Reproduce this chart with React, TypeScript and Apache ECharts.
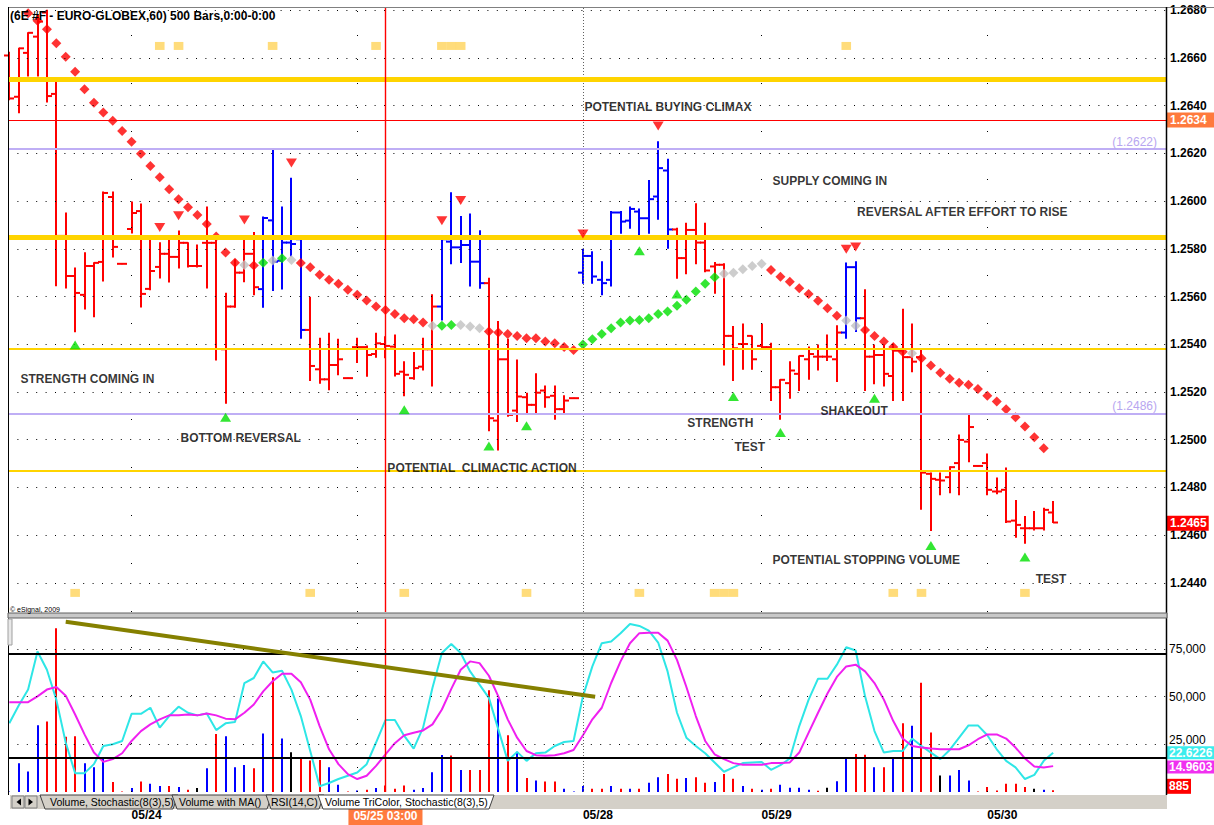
import React, { useEffect, useRef } from "react";
import * as echarts from "echarts";

const FONT = "'Liberation Sans', Arial, Helvetica, sans-serif";

// ---------------- axes / ticks ----------------
const priceTicks = [1.244, 1.246, 1.248, 1.25, 1.252, 1.254, 1.256, 1.258, 1.26, 1.262, 1.264, 1.266, 1.268];
const volumeTicks = [25000, 50000, 75000];
const dateTickBars = [13, 61, 80, 104];
const dateTickLabels = ["05/24", "05/28", "05/29", "05/30"];
const sparseDayLineBars = [13, 80, 104];
const halfDayLineBars = [37];
const denseDayLineBars = [61];
const cursorBar = 40;
const cursorLabel = "05/25 03:00";
const titleText = "(6E #F - EURO-GLOBEX,60) 500 Bars,0:00-0:00";

// ---------------- price bars (60 min) ----------------
const opens = [
  1.2661, 1.26437, 1.26621, 1.26689, 1.2679, 1.26449, 1.25854, 1.25686, 1.25607, 1.25728,
  1.25745, 1.26017, 1.25737, 1.25883, 1.25958, 1.25632, 1.25724, 1.25779, 1.25766, 1.25825,
  1.25728, 1.25825, 1.25825, 1.25379, 1.25558, 1.257, 1.25779, 1.25631, 1.25919, 1.2575,
  1.25826, 1.2584, 1.2546, 1.25295, 1.25253, 1.25313, 1.25258, 1.25388, 1.25388, 1.25359,
  1.25401, 1.2539, 1.25285, 1.25258, 1.25306, 1.25379, 1.25558, 1.2583, 1.25806, 1.25816,
  1.25746, 1.25656, 1.2508, 1.25337, 1.25122, 1.25178, 1.25146, 1.25206, 1.25184, 1.25128,
  1.25174, 1.257, 1.2577, 1.2567, 1.2567, 1.25952, 1.25918, 1.25956, 1.25928, 1.26019,
  1.26128, 1.25881, 1.25761, 1.25879, 1.25826, 1.25726, 1.25733, 1.25435, 1.25401, 1.25435,
  1.25393, 1.25388, 1.2522, 1.25237, 1.25276, 1.25337, 1.25348, 1.25348, 1.25337, 1.25449,
  1.25723, 1.25509, 1.25348, 1.25355, 1.25267, 1.25373, 1.25346, 1.25346, 1.24857, 1.24832,
  1.24843, 1.24902, 1.24992, 1.2489, 1.24902, 1.24783, 1.2479, 1.24661, 1.24629, 1.24629,
  1.24629, 1.24695,
];
const highs = [
  1.26624, 1.2664, 1.26705, 1.26781, 1.268, 1.26516, 1.2595, 1.2572, 1.25783, 1.25741,
  1.26038, 1.26038, 1.25737, 1.25996, 1.25988, 1.25854, 1.25825, 1.2585, 1.25875, 1.25825,
  1.25816, 1.25975, 1.25854, 1.25614, 1.25754, 1.25854, 1.25868, 1.25933, 1.26217, 1.25975,
  1.26096, 1.25849, 1.25597, 1.25425, 1.25446, 1.25421, 1.25258, 1.25425, 1.25393, 1.25446,
  1.25431, 1.25439, 1.25327, 1.25365, 1.25425, 1.25607, 1.25854, 1.26035, 1.25935, 1.25946,
  1.25876, 1.25677, 1.25495, 1.25421, 1.25334, 1.25195, 1.25276, 1.25225, 1.25225, 1.25184,
  1.25174, 1.25798, 1.25788, 1.25746, 1.25956, 1.25956, 1.25975, 1.25967, 1.26086, 1.26249,
  1.26175, 1.25886, 1.25907, 1.25989, 1.25907, 1.25743, 1.25737, 1.25474, 1.25485, 1.25435,
  1.25485, 1.25404, 1.25251, 1.25327, 1.25351, 1.25388, 1.25397, 1.25439, 1.25477, 1.2574,
  1.25746, 1.25628, 1.25397, 1.25397, 1.25401, 1.25547, 1.25485, 1.25379, 1.2486, 1.2486,
  1.24887, 1.2502, 1.25108, 1.2489, 1.2494, 1.24839, 1.24881, 1.24745, 1.24678, 1.24699,
  1.24713, 1.24741,
];
const lows = [
  1.26425, 1.2637, 1.26524, 1.26524, 1.26415, 1.25645, 1.25636, 1.25452, 1.25548, 1.25515,
  1.25665, 1.25766, 1.25737, 1.25866, 1.25556, 1.25628, 1.25678, 1.25661, 1.2572, 1.25724,
  1.25724, 1.25636, 1.25334, 1.25153, 1.25555, 1.25662, 1.25607, 1.25555, 1.25625, 1.25631,
  1.2577, 1.25425, 1.25248, 1.25237, 1.25209, 1.25272, 1.25258, 1.25323, 1.25266, 1.25346,
  1.25343, 1.25267, 1.25184, 1.25253, 1.25292, 1.25225, 1.25502, 1.25737, 1.25743, 1.25644,
  1.25635, 1.25038, 1.24957, 1.25098, 1.25076, 1.25114, 1.25111, 1.25136, 1.25086, 1.25111,
  1.25174, 1.25656, 1.25656, 1.25607, 1.25644, 1.25865, 1.25886, 1.25854, 1.25865, 1.25924,
  1.25802, 1.25677, 1.25695, 1.25737, 1.25704, 1.25614, 1.25313, 1.25248, 1.25295, 1.25295,
  1.25383, 1.25164, 1.25086, 1.25174, 1.25206, 1.25253, 1.25292, 1.25332, 1.25244, 1.25425,
  1.25453, 1.25206, 1.25234, 1.25225, 1.25164, 1.25164, 1.25285, 1.24709, 1.24619, 1.24769,
  1.24778, 1.24769, 1.24908, 1.2489, 1.24769, 1.24773, 1.24653, 1.24591, 1.24566, 1.24622,
  1.24622, 1.24653,
];
const closes = [
  1.2643, 1.2664, 1.26705, 1.26752, 1.2644, 1.25854, 1.25686, 1.25615, 1.25728, 1.25741,
  1.26034, 1.25808, 1.25737, 1.2595, 1.25611, 1.25707, 1.25779, 1.25766, 1.25825, 1.25728,
  1.25728, 1.25825, 1.2538, 1.25558, 1.257, 1.25779, 1.25639, 1.25929, 1.25746, 1.25826,
  1.2582, 1.2546, 1.25309, 1.25253, 1.25313, 1.25337, 1.25258, 1.25388, 1.25355, 1.25404,
  1.25393, 1.25276, 1.25272, 1.253, 1.25379, 1.25558, 1.2584, 1.25806, 1.25816, 1.25746,
  1.25656, 1.2509, 1.25337, 1.25104, 1.25181, 1.25146, 1.25197, 1.25178, 1.25128, 1.25164,
  1.25174, 1.2577, 1.25684, 1.25656, 1.25952, 1.25914, 1.25967, 1.25928, 1.26008, 1.26138,
  1.25881, 1.25761, 1.25879, 1.25826, 1.25709, 1.25733, 1.25435, 1.25383, 1.25401, 1.25337,
  1.25388, 1.2522, 1.25251, 1.2529, 1.25351, 1.25359, 1.25348, 1.25348, 1.25449, 1.25723,
  1.25509, 1.25348, 1.25355, 1.25276, 1.25373, 1.25346, 1.25327, 1.24862, 1.24836, 1.24829,
  1.24885, 1.24999, 1.25053, 1.2489, 1.2479, 1.24783, 1.24657, 1.24643, 1.24629, 1.24629,
  1.24706, 1.24653,
];
// r = red bar, b = blue bar
const barColors = (
  "rrrrrrrrrr" + "rrrrrrrrrr" + "rrrrrrrbbb" + "bbrrrrrrrr" + "rrrrrrbbbb" +
  "brrrrrrrrr" + "rbbbbbbbbb" + "brrrrrrrrr" + "rrrrrrrrrb" + "brrrrrrrrr" +
  "rrrrrrrrrr" + "rr"
).split("");

// ---------------- stop-and-reverse diamonds ----------------
const sar = [
  null, null, 1.26787, 1.26756, 1.2672, 1.26661, 1.26605, 1.26542, 1.26469, 1.26412,
  1.26371, 1.26337, 1.26294, 1.26249, 1.26198, 1.26147, 1.261, 1.2605, 1.26008, 1.25974,
  1.25942, 1.25904, 1.25851, 1.25784, 1.25742, 1.25732, 1.2573, 1.25742, 1.25751, 1.2576,
  1.25753, 1.2574, 1.25723, 1.25691, 1.2567, 1.25653, 1.25628, 1.25607, 1.25583, 1.25558,
  1.25544, 1.25527, 1.25509, 1.25505, 1.25491, 1.25477, 1.25477, 1.25481, 1.25481, 1.25474,
  1.25467, 1.25453, 1.25449, 1.25443, 1.25435, 1.25425, 1.25425, 1.25411, 1.25404, 1.25388,
  1.25376, 1.25399, 1.25421, 1.25443, 1.25467, 1.25491, 1.25499, 1.25502, 1.25509, 1.25527,
  1.25537, 1.25561, 1.25586, 1.25621, 1.25653, 1.25681, 1.25695, 1.257, 1.25714, 1.25728,
  1.25737, 1.25711, 1.25683, 1.25662, 1.25635, 1.25611, 1.25582, 1.25551, 1.25519, 1.25499,
  1.25477, 1.2546, 1.25435, 1.25411, 1.25388, 1.25369, 1.25362, 1.25341, 1.25311, 1.25281,
  1.25255, 1.25239, 1.2523, 1.25212, 1.25184, 1.2516, 1.25128, 1.25094, 1.25055, 1.2501,
  1.24964, null,
];
// r = red, g = green, x = grey
const sarColors = (
  "--rrrrrrrr" + "rrrrrrrrrr" + "rrrrrxrgxg" + "xrrrrrrrrr" + "rrrrrxggxx" +
  "xrrrrrrrrr" + "rggggggggg" + "ggggggxxxx" + "xrrrrrrrrx" + "xrrrrrxrrr" +
  "rrrrrrrrrr" + "r-"
).split("");

// ---------------- signal triangles & squares ----------------
const downTriBars = [16, 18, 25, 30, 46, 48, 61, 69, 89, 90];
const downTriPrices = [1.25889, 1.25938, 1.25921, 1.26159, 1.25918, 1.26002, 1.25862, 1.26315, 1.25798, 1.25807];
const upTriBars = [7, 23, 42, 51, 55, 67, 71, 77, 82, 92, 98, 108];
const upTriPrices = [1.25397, 1.25094, 1.25125, 1.24974, 1.25058, 1.25792, 1.25611, 1.25181, 1.2503, 1.25174, 1.24557, 1.24508];
const topSquareBars = [16, 18, 28, 39, 46, 47, 48, 89];
const topSquarePrice = 1.2665;
const bottomSquareBars = [7, 32, 42, 55, 67, 75, 76, 77, 94, 97, 108];
const bottomSquarePrice = 1.24358;

// ---------------- horizontal levels ----------------
const yellowLevels = [1.2651, 1.2585, 1.2538, 1.2487];
const yellowWidths = [5, 5, 2, 2];
const lavenderLevels = [1.2622, 1.2511];
const lavenderLabels = ["(1.2622)", "(1.2486)"];
const redLevel = 1.2634;
const redLevelLabel = "1.2634";
const lastPrice = 1.2465;
const lastPriceLabel = "1.2465";

// ---------------- annotations ----------------
const annoTexts = [
  "STRENGTH COMING IN", "BOTTOM REVERSAL", "POTENTIAL  CLIMACTIC ACTION", "POTENTIAL BUYING CLIMAX",
  "SUPPLY COMING IN", "REVERSAL AFTER EFFORT TO RISE", "STRENGTH", "TEST", "SHAKEOUT",
  "POTENTIAL STOPPING VOLUME", "TEST",
];
const annoBars = [1.14, 18.15, 40.15, 61.1, 81.1, 90.1, 72.05, 77.05, 86.2, 81.1, 109.1];
const annoPrices = [1.25255, 1.25008, 1.24882, 1.26394, 1.26084, 1.25955, 1.2507, 1.2497, 1.25121, 1.24496, 1.24417];

// ---------------- lower panel: volume + stochastic ----------------
const volumes = [
  0, 15100, 10700, 35000, 37000, 85900, 29000, 29200, 15100, 13000,
  17700, 5200, 300, 2100, 5500, 4300, 3100, 3100, 2600, 1200,
  2100, 12500, 30400, 29200, 13000, 14200, 12500, 30700, 60200, 28100,
  20800, 17300, 16500, 16800, 13000, 3800, 300, 800, 1200, 2100,
  3400, 1700, 3400, 1200, 2100, 10400, 19400, 19100, 11600, 11600,
  11600, 53400, 49000, 29800, 21100, 7400, 6000, 5500, 5500, 1700,
  300, 3100, 1700, 1700, 3100, 1700, 1700, 1700, 4800, 7800,
  9500, 6900, 7300, 7800, 4800, 5200, 9500, 6900, 3100, 1700,
  1200, 1700, 3800, 2200, 2200, 1200, 600, 2200, 5700, 17700,
  19900, 19600, 13000, 13000, 17900, 36100, 34700, 57300, 31200, 8600,
  8600, 11600, 6000, 300, 2600, 800, 4300, 4300, 2600, 1700,
  1200, 885,
];
const volColors = (
  "bbbbrrrrbb" + "brrbrbbrbr" + "kbrbbbrbrb" + "krrrbbrbrb" + "rrrbbbbrbr" +
  "rrbrbrbrrb" + "bbrrbrbrbb" + "rrbrrbrrbr" + "brbbbbrkbb" + "rrbrbrbrrk" +
  "bbbrrrrrrk" + "br"
).split("");
const stochK = [
  39.7, 50, 59.2, 81.2, 70.7, 53.4, 28.6, 10.9, 10.9, 16.1,
  26.6, 27.6, 29.5, 45.2, 45.2, 48.7, 37.2, 43.9, 49.3, 45.8,
  44.3, 45.4, 35.8, 39.7, 40.4, 63, 65.9, 75.5, 69.1, 70.1,
  59.2, 43.9, 23.7, 3.3, 5.2, 7.5, 9.4, 11.3, 16.1, 28.6,
  41.6, 41.6, 32.4, 25.1, 37.2, 60.2, 80.3, 85.6, 80.3, 69.7,
  62.1, 54.4, 36.2, 18, 23.2, 18, 22.4, 22.8, 26.6, 28.9,
  29.5, 55.3, 72.6, 86, 87, 91.8, 97.1, 96, 93.3, 86.4,
  69.7, 45.8, 31.4, 26.6, 22.4, 17.1, 11.7, 14.2, 16.7, 17.1,
  17.4, 12.8, 15.5, 19.4, 38.1, 53.4, 65.5, 65.5, 73.6, 83.7,
  81.8, 55.3, 35.2, 22.8, 23.7, 23.7, 30.9, 26.6, 22.8, 19,
  24.3, 31.4, 38.5, 38.5, 32.8, 24.7, 18, 14.2, 7.5, 9.9,
  18, 22.6226,
];
const stochD = [
  51.9, 51.9, 51.9, 55.3, 59.2, 60.7, 55.7, 44.8, 33.3, 22.8,
  17.4, 19, 22.4, 29.5, 35.2, 39.1, 42, 44.3, 44.3, 44.8,
  44.3, 45.4, 44.3, 42.4, 42, 45.8, 50.6, 58.2, 64, 68.4,
  68.4, 63.4, 53.4, 38.1, 24.7, 16.1, 10.3, 7.5, 9.4, 15.1,
  21.8, 28.2, 32.8, 34.3, 35.6, 39.1, 47.7, 59.6, 70.7, 75.5,
  74.5, 67.2, 55.3, 42, 31.4, 23.7, 21.3, 20.9, 21.3, 22.4,
  24.3, 32.8, 42, 48.7, 63, 75.5, 86, 91.8, 92.1, 92.1,
  87.5, 76.4, 60.7, 43.9, 29.5, 21.8, 19, 16.7, 15.7, 15.7,
  15.7, 16.7, 16.7, 17.1, 22.8, 34.3, 45.8, 56.9, 66.5, 72.6,
  73.6, 69.7, 63, 53.4, 41, 30.9, 26.6, 25.7, 25.1, 24.7,
  24.7, 24.7, 27, 30.5, 33.3, 33.3, 30.9, 25.7, 19.4, 14.8,
  14.2, 14.9603,
];
const stochUpper = 80;
const stochLower = 20;
const kLabel = "22.6226";
const dLabel = "14.9603";
const volLabel = "885";
const trendStart = [6.0, 98.4];
const trendEnd = [62.3, 55.0];

// ---------------- layout constants ----------------
const X_MIN = -0.138;
const X_MAX = 123.0;
const P_MIN = 1.24278;
const P_MAX = 1.26809;
const VOL_MAX = 90780;

const COLORS: Record<string, string> = { r: "#FF0000", b: "#0000FF", k: "#000000", g: "#00E000", x: "#C0C0C0" };

const tabs = [
  { text: "Volume, Stochastic(8(3),5)", x0: 40, x1: 178, tx: 50, active: false },
  { text: "Volume with MA()", x0: 172, x1: 272, tx: 179, active: false },
  { text: "RSI(14,C)", x0: 266, x1: 324, tx: 271, active: false },
  { text: "Volume TriColor, Stochastic(8(3),5)", x0: 318, x1: 494, tx: 325, active: true },
];

const markBase = { symbol: "none", silent: true, animation: false, precision: 6, label: { show: false } };

function helper(name: string, xi: number, yi: number, z: number, lineStyle: any, data: any[]) {
  return {
    name,
    type: "line",
    xAxisIndex: xi,
    yAxisIndex: yi,
    data: [],
    z,
    color: lineStyle.color || "#000000",
    markLine: { ...markBase, lineStyle, data },
  };
}

function buildOption(): any {
  const n = opens.length;
  const idx = opens.map((_, i) => i);
  const ohlcData = idx.map((i) => [i, opens[i], highs[i], lows[i], closes[i]]);
  const volData = idx.map((i) => [i, volumes[i]]);

  const dotStyle = (gap: number) => ({ type: [1, gap], color: "#000000", width: 1, opacity: 1 });
  const cursorStyle = { type: "solid", color: "#FF0000", width: 1.4, opacity: 1 };

  const levelData: any[] = [];
  yellowLevels.forEach((v, k) =>
    levelData.push({ yAxis: v, lineStyle: { type: "solid", color: "#FFD400", width: yellowWidths[k] } })
  );
  lavenderLevels.forEach((v, k) =>
    levelData.push({
      yAxis: v,
      lineStyle: { type: "solid", color: "#BFAEF5", width: 2 },
      label: {
        show: true,
        position: "insideEndTop",
        formatter: lavenderLabels[k],
        color: "#B8A6F0",
        fontSize: 12,
        fontFamily: FONT,
        distance: [9, 1],
      },
    })
  );
  levelData.push({
    yAxis: redLevel,
    lineStyle: { type: "solid", color: "#FF0000", width: 1 },
    label: {
      show: true,
      position: "end",
      formatter: redLevelLabel,
      color: "#FFFFFF",
      backgroundColor: "#FF7A3D",
      fontWeight: "bold",
      fontSize: 12,
      fontFamily: FONT,
      padding: [2, 9, 1, 3],
      distance: 1,
    },
  });
  levelData.push({
    yAxis: lastPrice,
    lineStyle: { type: "solid", color: "rgba(0,0,0,0)", width: 0 },
    label: {
      show: true,
      position: "end",
      formatter: lastPriceLabel,
      color: "#FFFFFF",
      backgroundColor: "#FF0000",
      fontWeight: "bold",
      fontSize: 12,
      fontFamily: FONT,
      padding: [2, 2, 1, 3],
      distance: 1,
    },
  });

  const sarData: any[] = [];
  sar.forEach((v, i) => {
    if (v != null && sarColors[i] !== "-") {
      sarData.push({ value: [i, v], itemStyle: { color: COLORS[sarColors[i]] } });
    }
  });

  const graphic: any[] = [
    { type: "line", z: 50, shape: { x1: 8, y1: 7.5, x2: 1214, y2: 7.5 }, style: { stroke: "#808080", lineWidth: 1 } },
    { type: "line", z: 50, shape: { x1: 8.5, y1: 7, x2: 8.5, y2: 795 }, style: { stroke: "#000000", lineWidth: 1 } },
    { type: "line", z: 50, shape: { x1: 1166.5, y1: 7, x2: 1166.5, y2: 795 }, style: { stroke: "#000000", lineWidth: 1.5 } },
    { type: "rect", z: 50, shape: { x: 8, y: 613, width: 1159, height: 5 }, style: { fill: "#C8C8C8", stroke: "#606060", lineWidth: 1 } },
    { type: "rect", z: 50, shape: { x: 8, y: 619, width: 4, height: 26 }, style: { fill: "#E8E8E8", stroke: "#A0A0A0", lineWidth: 1 } },
    {
      type: "text", z: 50, x: 10, y: 16,
      style: { text: titleText, fill: "#000000", fontSize: 12, fontWeight: "bold", fontFamily: FONT, verticalAlign: "middle" },
    },
    {
      type: "text", z: 50, x: 10, y: 609,
      style: { text: "\u00A9 eSignal, 2009", fill: "#000000", fontSize: 7, fontFamily: FONT, verticalAlign: "middle" },
    },
    { type: "rect", z: 50, shape: { x: 10, y: 795, width: 1157, height: 14 }, style: { fill: "#D4D0C8" } },
    { type: "rect", z: 51, shape: { x: 12, y: 796, width: 12, height: 12 }, style: { fill: "#D4D0C8", stroke: "#808080", lineWidth: 1 } },
    { type: "polygon", z: 52, shape: { points: [[21, 798.5], [21, 805.5], [16.5, 802]] }, style: { fill: "#000000" } },
    { type: "rect", z: 51, shape: { x: 25, y: 796, width: 12, height: 12 }, style: { fill: "#D4D0C8", stroke: "#808080", lineWidth: 1 } },
    { type: "polygon", z: 52, shape: { points: [[28.5, 798.5], [28.5, 805.5], [33, 802]] }, style: { fill: "#000000" } },
  ];
  tabs.forEach((t, k) => {
    const z = t.active ? 60 : 51 + k;
    graphic.push({
      type: "polygon",
      z,
      shape: { points: [[t.x0, 795], [t.x0 + 5, 809], [t.x1 - 5, 809], [t.x1, 795]] },
      style: { fill: t.active ? "#FFFFFF" : "#D4D0C8", stroke: "#404040", lineWidth: 1 },
    });
    graphic.push({
      type: "text",
      z: z + 0.5,
      x: t.tx,
      y: 802,
      style: { text: t.text, fill: "#000000", fontSize: 10.5, fontFamily: FONT, verticalAlign: "middle" },
    });
  });

  return {
    animation: false,
    backgroundColor: "#FFFFFF",
    textStyle: { fontFamily: FONT },
    grid: [
      { left: 8, top: 8, width: 1158, height: 604 },
      { left: 8, top: 619, width: 1158, height: 174 },
    ],
    xAxis: [
      { type: "value", gridIndex: 0, min: X_MIN, max: X_MAX, show: false },
      {
        type: "value",
        gridIndex: 1,
        min: X_MIN,
        max: X_MAX,
        position: "bottom",
        axisLine: { show: false },
        axisTick: { show: false },
        splitLine: { show: false },
        axisLabel: {
          customValues: dateTickBars,
          formatter: (v: number) => {
            const k = dateTickBars.indexOf(Math.round(v));
            return k >= 0 ? dateTickLabels[k] : "";
          },
          align: "left",
          margin: 17,
          fontWeight: "bold",
          fontSize: 12,
          color: "#000000",
          fontFamily: FONT,
        },
      },
      {
        type: "value",
        gridIndex: 1,
        min: X_MIN,
        max: X_MAX,
        position: "bottom",
        axisLine: { show: false },
        axisTick: { show: false },
        splitLine: { show: false },
        axisLabel: {
          customValues: [cursorBar],
          formatter: () => cursorLabel,
          margin: 15,
          fontWeight: "bold",
          fontSize: 12,
          color: "#FFFFFF",
          backgroundColor: "#FF7A3D",
          padding: [3, 5, 3, 5],
          fontFamily: FONT,
        },
      },
    ],
    yAxis: [
      {
        type: "value",
        gridIndex: 0,
        min: P_MIN,
        max: P_MAX,
        position: "right",
        axisLine: { show: false },
        axisTick: { show: false },
        splitLine: { show: false },
        axisLabel: {
          customValues: priceTicks,
          formatter: (v: number) => v.toFixed(4),
          margin: 4,
          fontWeight: "bold",
          fontSize: 12,
          color: "#000000",
          fontFamily: FONT,
        },
      },
      { type: "value", gridIndex: 1, min: 0, max: 100, show: false },
      {
        type: "value",
        gridIndex: 1,
        min: 0,
        max: VOL_MAX,
        position: "right",
        axisLine: { show: false },
        axisTick: { show: false },
        splitLine: { show: false },
        axisLabel: {
          customValues: volumeTicks,
          formatter: (v: number) => (v === volumeTicks[0] ? "{up|" + v.toLocaleString("en-US") + "}" : v.toLocaleString("en-US")),
          rich: { up: { fontSize: 12, color: "#000000", fontFamily: FONT, padding: [0, 0, 9, 0] } },
          margin: 3,
          fontSize: 12,
          color: "#000000",
          fontFamily: FONT,
        },
      },
    ],
    graphic,
    series: [
      helper("priceGrid", 0, 0, 1, dotStyle(8.4), priceTicks.map((v) => ({ yAxis: v }))),
      helper("dayLines", 0, 0, 1, dotStyle(47), sparseDayLineBars.map((b) => ({ xAxis: b }))),
      helper("dayLinesHalf", 0, 0, 1, dotStyle(23), halfDayLineBars.map((b) => ({ xAxis: b }))),
      helper("dayLinesDense", 0, 0, 1, { type: [1, 2], color: "#606060", width: 1 }, denseDayLineBars.map((b) => ({ xAxis: b }))),
      helper("levels", 0, 0, 2, { type: "solid", width: 1, color: "#FFD400" }, levelData),
      helper("cursorMain", 0, 0, 2, cursorStyle, [{ xAxis: cursorBar, lineStyle: cursorStyle }]),
      {
        name: "price",
        type: "custom",
        xAxisIndex: 0,
        yAxisIndex: 0,
        z: 3,
        data: ohlcData,
        encode: { x: 0, y: [1, 2, 3, 4] },
        renderItem: (params: any, api: any) => {
          const i = api.value(0);
          const pO = api.coord([i, api.value(1)]);
          const pH = api.coord([i, api.value(2)]);
          const pL = api.coord([i, api.value(3)]);
          const pC = api.coord([i, api.value(4)]);
          const color = COLORS[barColors[params.dataIndex]] || "#FF0000";
          const x = Math.round(pO[0]);
          const t = 5;
          return {
            type: "group",
            children: [
              { type: "line", shape: { x1: x, y1: pH[1] - 0.5, x2: x, y2: pL[1] + 0.5 }, style: { stroke: color, lineWidth: 2 } },
              { type: "line", shape: { x1: x - t, y1: pO[1], x2: x, y2: pO[1] }, style: { stroke: color, lineWidth: 2 } },
              { type: "line", shape: { x1: x, y1: pC[1], x2: x + t, y2: pC[1] }, style: { stroke: color, lineWidth: 2 } },
            ],
          };
        },
      },
      {
        name: "sar",
        type: "scatter",
        xAxisIndex: 0,
        yAxisIndex: 0,
        z: 4,
        symbol: "diamond",
        symbolSize: [10, 10],
        data: sarData,
      },
      {
        name: "topSquares",
        type: "scatter",
        xAxisIndex: 0,
        yAxisIndex: 0,
        z: 4,
        symbol: "rect",
        symbolSize: [9.6, 8],
        itemStyle: { color: "#FFD35A" },
        data: topSquareBars.map((b) => [b, topSquarePrice]),
      },
      {
        name: "bottomSquares",
        type: "scatter",
        xAxisIndex: 0,
        yAxisIndex: 0,
        z: 4,
        symbol: "rect",
        symbolSize: [9.6, 8],
        itemStyle: { color: "#FFD35A" },
        data: bottomSquareBars.map((b) => [b, bottomSquarePrice]),
      },
      {
        name: "downTriangles",
        type: "scatter",
        xAxisIndex: 0,
        yAxisIndex: 0,
        z: 5,
        symbol: "triangle",
        symbolRotate: 180,
        symbolSize: [11, 9],
        itemStyle: { color: "#FF0000" },
        data: downTriBars.map((b, k) => [b, downTriPrices[k]]),
      },
      {
        name: "upTriangles",
        type: "scatter",
        xAxisIndex: 0,
        yAxisIndex: 0,
        z: 5,
        symbol: "triangle",
        symbolSize: [11, 9],
        itemStyle: { color: "#00E000" },
        data: upTriBars.map((b, k) => [b, upTriPrices[k]]),
      },
      {
        name: "annotations",
        type: "scatter",
        xAxisIndex: 0,
        yAxisIndex: 0,
        z: 6,
        symbolSize: 1,
        itemStyle: { color: "rgba(0,0,0,0)" },
        label: {
          show: true,
          position: "right",
          distance: 0,
          formatter: "{b}",
          color: "#000000",
          fontWeight: "bold",
          fontSize: 12,
          fontFamily: FONT,
        },
        data: annoBars.map((b, k) => ({ name: annoTexts[k], value: [b, annoPrices[k]] })),
      },
      helper("volGrid", 1, 2, 1, dotStyle(8.4), volumeTicks.map((v) => ({ yAxis: v }))),
      helper("dayLinesLow", 1, 2, 1, dotStyle(47), sparseDayLineBars.map((b) => ({ xAxis: b }))),
      helper("dayLinesLowHalf", 1, 2, 1, dotStyle(23), halfDayLineBars.map((b) => ({ xAxis: b }))),
      helper("dayLinesLowDense", 1, 2, 1, { type: [1, 2], color: "#606060", width: 1 }, denseDayLineBars.map((b) => ({ xAxis: b }))),
      helper("cursorLow", 1, 2, 2, cursorStyle, [{ xAxis: cursorBar, lineStyle: cursorStyle }]),
      helper("volLabel", 1, 2, 6, { type: "solid", color: "rgba(0,0,0,0)", width: 0 }, [
        {
          yAxis: volumes[n - 1],
          label: {
            show: true,
            position: "end",
            formatter: volLabel,
            color: "#FFFFFF",
            backgroundColor: "#FF0000",
            fontWeight: "bold",
            fontSize: 12,
            fontFamily: FONT,
            padding: [2, 2, 1, 2],
            distance: 1,
            offset: [0, -4],
          },
        },
      ]),
      {
        name: "volume",
        type: "custom",
        xAxisIndex: 1,
        yAxisIndex: 2,
        z: 2,
        data: volData,
        encode: { x: 0, y: 1 },
        renderItem: (params: any, api: any) => {
          const i = api.value(0);
          const p0 = api.coord([i, 0]);
          const p1 = api.coord([i, api.value(1)]);
          const x = Math.round(p0[0]);
          const color = COLORS[volColors[params.dataIndex]] || "#0000FF";
          return {
            type: "line",
            shape: { x1: x, y1: p0[1], x2: x, y2: Math.min(p1[1], p0[1] - 0.5) },
            style: { stroke: color, lineWidth: 2 },
          };
        },
      },
      helper("stochBands", 1, 1, 3, { type: "solid", color: "#000000", width: 2 }, [
        { yAxis: stochUpper },
        { yAxis: stochLower },
      ]),
      helper("trend", 1, 1, 3, { type: "solid", color: "#858000", width: 4 }, [
        [{ coord: trendStart }, { coord: trendEnd }],
      ]),
      {
        name: "%K",
        type: "line",
        xAxisIndex: 1,
        yAxisIndex: 1,
        z: 4,
        showSymbol: false,
        symbol: "none",
        lineStyle: { color: "#2EE6E6", width: 2 },
        data: idx.map((i) => [i, stochK[i]]),
      },
      {
        name: "%D",
        type: "line",
        xAxisIndex: 1,
        yAxisIndex: 1,
        z: 4,
        showSymbol: false,
        symbol: "none",
        lineStyle: { color: "#F020F0", width: 2 },
        data: idx.map((i) => [i, stochD[i]]),
      },
      helper("kLabel", 1, 1, 6, { type: "solid", color: "rgba(0,0,0,0)", width: 0 }, [
        {
          yAxis: stochK[n - 1],
          label: {
            show: true,
            position: "end",
            formatter: kLabel,
            color: "#FFFFFF",
            backgroundColor: "#3CEDED",
            fontWeight: "bold",
            fontSize: 12,
            fontFamily: FONT,
            padding: [1, 2, 0, 2],
            distance: 1,
          },
        },
      ]),
      helper("dLabel", 1, 1, 6, { type: "solid", color: "rgba(0,0,0,0)", width: 0 }, [
        {
          yAxis: stochD[n - 1],
          label: {
            show: true,
            position: "end",
            formatter: dLabel,
            color: "#FFFFFF",
            backgroundColor: "#F030F0",
            fontWeight: "bold",
            fontSize: 12,
            fontFamily: FONT,
            padding: [1, 2, 0, 2],
            distance: 1,
            offset: [0, 1],
          },
        },
      ]),
    ],
  };
}

export default function App() {
  const ref = useRef<HTMLDivElement>(null);
  useEffect(() => {
    if (!ref.current) return;
    const chart = echarts.init(ref.current, null, { renderer: "svg" });
    chart.setOption(buildOption());
    return () => {
      chart.dispose();
    };
  }, []);
  return (
    <div
      ref={ref}
      style={{ position: "absolute", left: 0, top: 0, width: 1214, height: 825, background: "#FFFFFF" }}
    />
  );
}
